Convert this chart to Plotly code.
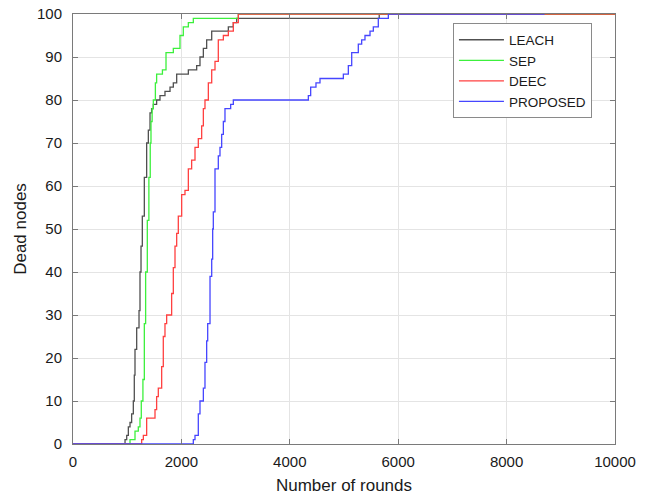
import plotly.graph_objects as go

# Data: (round at which count changes, dead nodes) step breakpoints
leach_rounds = [0, 960, 991, 1021, 1052, 1082, 1113, 1131, 1144, 1175, 1218, 1236, 1255, 1279, 1316,
                1359, 1390, 1421, 1450, 1482, 1543, 1605, 1697, 1790, 1851, 1913, 2128, 2282, 2343,
                2405, 2466, 2559, 2866, 2958, 3020, 5650, 10000]
leach_dead = [0, 1, 2, 4, 5, 7, 10, 16, 22, 27, 31, 40, 46, 53, 62,
              70, 73, 77, 78, 79, 80, 81, 82, 83, 84, 86, 87, 88, 90,
              92, 94, 96, 97, 98, 99, 100, 100]

sep_rounds = [0, 1052, 1144, 1205, 1236, 1260, 1290, 1316, 1340, 1371, 1400, 1425, 1439, 1460, 1482,
              1520, 1543, 1650, 1716, 1851, 1974, 2035, 2128, 2220, 3050, 10000]
sep_dead = [0, 1, 3, 4, 6, 10, 15, 28, 40, 52, 62, 70, 75, 78, 80,
            84, 86, 87, 91, 92, 95, 97, 98, 99, 100, 100]

deec_rounds = [0, 1267, 1298, 1359, 1513, 1543, 1574, 1636, 1666, 1697, 1728, 1820, 1851, 1882, 1913,
               1943, 2005, 2066, 2128, 2189, 2251, 2312, 2374, 2405, 2435, 2497, 2559, 2620, 2681,
               2774, 2866, 2958, 3050, 10000]
deec_dead = [0, 1, 2, 6, 8, 11, 13, 18, 25, 28, 30, 35, 41, 46, 49,
             53, 58, 59, 64, 66, 69, 71, 74, 78, 80, 84, 87, 89, 94,
             95, 96, 98, 100, 100]

prop_rounds = [0, 2220, 2251, 2312, 2343, 2405, 2435, 2466, 2485, 2528, 2559, 2577, 2589, 2620, 2681,
               2712, 2743, 2774, 2804, 2909, 2958, 4342, 4385, 4483, 4557, 4988, 5080, 5142, 5264,
               5326, 5387, 5480, 5541, 5633, 5818, 8700]
prop_dead = [0, 1, 2, 7, 10, 13, 19, 24, 28, 39, 43, 50, 54, 64, 67,
             69, 72, 75, 78, 79, 80, 81, 83, 84, 85, 86, 88, 91, 93,
             94, 95, 96, 97, 99, 100, 100]

series = [
    ("LEACH", leach_rounds, leach_dead, "#505050"),
    ("SEP", sep_rounds, sep_dead, "#3cf03c"),
    ("DEEC", deec_rounds, deec_dead, "#ff4040"),
    ("PROPOSED", prop_rounds, prop_dead, "#4646ff"),
]

x_ticks = [0, 2000, 4000, 6000, 8000, 10000]
y_ticks = [0, 10, 20, 30, 40, 50, 60, 70, 80, 90, 100]

fig = go.Figure()
for name, xs, ys, col in series:
    fig.add_trace(go.Scatter(x=xs, y=ys, mode="lines", name=name,
                             line=dict(color=col, width=1.3, shape="hv")))

font = "Liberation Sans, Arial, sans-serif"
axis_common = dict(
    showline=True, linecolor="#7a7a7a", linewidth=1, mirror="ticks",
    ticks="inside", ticklen=5, tickcolor="#7a7a7a",
    showgrid=True, gridcolor="#e4e4e4", gridwidth=1,
    zeroline=False, tickfont=dict(family=font, size=15, color="#1a1a1a"),
    automargin=False,
)

fig.update_layout(
    width=650, height=498,
    margin=dict(l=73, r=35, t=14, b=54),
    paper_bgcolor="white", plot_bgcolor="white",
    font=dict(family=font, color="#1a1a1a"),
    xaxis=dict(range=[0, 10000], tickvals=x_ticks, ticktext=[str(v) for v in x_ticks],
               title=dict(text="Number of rounds", font=dict(size=17), standoff=10),
               ticklabelstandoff=4,
               **axis_common),
    yaxis=dict(range=[0, 100], tickvals=y_ticks, ticktext=[str(v) for v in y_ticks],
               title=dict(text="Dead nodes", font=dict(size=17), standoff=6),
               ticklabelstandoff=7,
               **axis_common),
    legend=dict(x=0.701, y=0.978, xanchor="left", yanchor="top",
                bgcolor="white", bordercolor="#8a8a8a", borderwidth=1,
                font=dict(family=font, size=13.5, color="#1a1a1a"),
                itemwidth=45, tracegroupgap=0,
                entrywidth=95, entrywidthmode="pixels"),
    showlegend=True,
)

fig.write_html("out.html")
